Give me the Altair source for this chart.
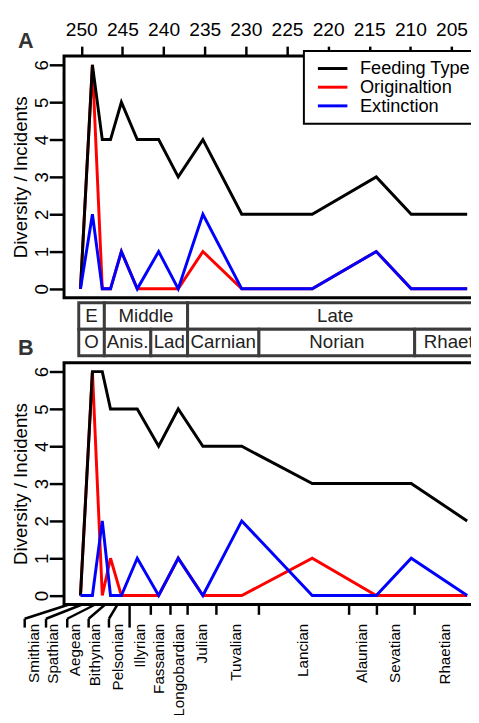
import altair as alt
import pandas as pd

FONT = "Liberation Sans"

# ---------------- data ----------------
series = ["Feeding Type", "Originaltion", "Extinction"]
ages = [250.1, 248.65, 247.45, 246.45, 245.13, 243.2, 240.6, 238.22, 235.22, 230.5, 221.93, 214.15, 209.9, 203.1]

a_feeding = [0, 6, 4, 4, 5, 4, 4, 3, 4, 2, 2, 3, 2, 2]
a_orig    = [0, 6, 0, 0, 1, 0, 0, 0, 1, 0, 0, 1, 0, 0]
a_ext     = [0, 2, 0, 0, 1, 0, 1, 0, 2, 0, 0, 1, 0, 0]

b_feeding = [0, 6, 6, 5, 5, 5, 4, 5, 4, 4, 3, 3, 3, 2]
b_orig    = [0, 6, 0, 1, 0, 0, 0, 1, 0, 0, 1, 0, 0, 0]
b_ext     = [0, 0, 2, 0, 0, 1, 0, 1, 0, 2, 0, 0, 1, 0]

top_ticks = [250, 245, 240, 235, 230, 225, 220, 215, 210, 205]
y_ticks = [0, 1, 2, 3, 4, 5, 6]

epoch_names = ["E", "Middle", "Late"]
epoch_start = [250.31, 247.2, 237.08]
epoch_end = [247.2, 237.08, 201.2]
stage_names = ["O", "Anis.", "Lad", "Carnian", "Norian", "Rhaet"]
stage_start = [250.31, 247.2, 241.55, 237.08, 228.41, 209.48]
stage_end = [247.2, 241.55, 237.08, 228.41, 209.48, 201.2]

substage_names = ["Smithian", "Spathian", "Aegean", "Bithynian", "Pelsonian", "Illyrian",
                  "Fassanian", "Longobardian", "Julian", "Tuvalian", "Lancian",
                  "Alaunian", "Sevatian", "Rhaetian"]
substage_label_ages = [255.68, 253.41, 250.79, 248.28, 245.53, 242.9, 240.51, 238.12,
                       235.37, 231.19, 223.07, 215.9, 211.83, 205.74]
boundary_ages = [241.55, 239.16, 237.08, 233.58, 228.41, 217.45, 214.07, 209.48]
long_boundary_ages = [244.13]
crowded_boundary_ages = [251.5, 249.9, 248.3, 247.1, 245.6]
crowded_leader_ages = [256.88, 254.29, 251.71, 249.11, 246.64]

# ---------------- tables ----------------
def long_table(vals):
    rows = []
    for s, v in zip(series, vals):
        for a, y in zip(ages, v):
            rows.append({"age": a, "value": y, "series": s})
    return pd.DataFrame(rows)

dfA = long_table([a_feeding, a_orig, a_ext])
dfB = long_table([b_feeding, b_orig, b_ext])

W, H, BAND_H = 426, 246, 66
xscale = alt.Scale(domain=[252.1, 201.2], nice=False, zero=False)
yscale = alt.Scale(domain=[-0.24, 6.24], nice=False, zero=False)

legend = alt.Legend(title=None, orient="none", legendX=244, legendY=-5,
                    symbolType="M-2,0H2", symbolSize=225, symbolStrokeWidth=3,
                    labelFontSize=18.5, labelFont=FONT, labelColor="black",
                    padding=8.5, symbolOffset=11.5, labelOffset=18.5, rowPadding=-0.2,
                    strokeColor="black", fillColor="white")
color = alt.Color("series:N", scale=alt.Scale(domain=series, range=["#000000", "#ff0000", "#0000ff"]),
                  legend=legend)

yaxis = alt.Axis(values=y_ticks, title="Diversity / Incidents", labelAngle=270, labelAlign="center",
                 labelBaseline="alphabetic", labelPadding=2, tickSize=15, tickWidth=2.5,
                 tickColor="black", labelColor="black", labelFontSize=19, domain=False, grid=False,
                 titleFontSize=19, titleFontWeight="normal", titleColor="black", titlePadding=2,
                 labelFlush=False)
topaxis = alt.Axis(orient="top", values=top_ticks, format="d", title=None, labelFontSize=19.5,
                   tickSize=10, tickWidth=2.5, tickColor="black", labelColor="black",
                   domain=False, grid=False, labelPadding=7, labelFlush=False)

order = ["Originaltion", "Feeding Type", "Extinction"]


def line_layers(df, xaxis):
    layers = []
    for s in order:
        layers.append(
            alt.Chart(df).transform_filter(alt.datum.series == s)
            .mark_line(strokeWidth=3, strokeJoin="miter", clip=False)
            .encode(x=alt.X("age:Q", scale=xscale, axis=xaxis),
                    y=alt.Y("value:Q", scale=yscale, axis=yaxis),
                    color=color)
        )
    return layers


def panel_label(txt):
    return alt.Chart(pd.DataFrame({"lab": [txt]})).mark_text(
        font=FONT, fontSize=22, fontWeight="bold", color="#333333", align="center", baseline="middle"
    ).encode(text="lab:N", x=alt.value(-39), y=alt.value(-15))


chartA = alt.layer(*line_layers(dfA, topaxis), panel_label("A")).properties(width=W, height=H)

# ---------------- time scale band ----------------
band_df = pd.DataFrame(
    [{"name": n, "start": s, "end": e, "y0": 1, "y1": 2, "ym": 1.5} for n, s, e in zip(epoch_names, epoch_start, epoch_end)] +
    [{"name": n, "start": s, "end": e, "y0": 0, "y1": 1, "ym": 0.5} for n, s, e in zip(stage_names, stage_start, stage_end)]
)
band_df["mid"] = (band_df["start"] + band_df["end"]) / 2
band_y = alt.Scale(domain=[-0.26, 2.185], nice=False, zero=False)
band_rect = alt.Chart(band_df).mark_rect(fill="white", stroke="#3c3c3c", strokeWidth=3).encode(
    x=alt.X("start:Q", scale=xscale, axis=None), x2="end:Q",
    y=alt.Y("y0:Q", scale=band_y, axis=None), y2="y1:Q")
band_text = alt.Chart(band_df).mark_text(font=FONT, fontSize=19, color="#222222", baseline="middle").encode(
    x=alt.X("mid:Q", scale=xscale, axis=None), y=alt.Y("ym:Q", scale=band_y, axis=None), text="name:N")
band = alt.layer(band_rect, band_text).properties(width=W, height=BAND_H,
                                                  view=alt.ViewBackground(stroke="transparent"))

# ---------------- panel B ----------------
ticks_df = pd.DataFrame({"age": boundary_ages})
long_df = pd.DataFrame({"age": long_boundary_ages})
lead_df = pd.DataFrame({"age": crowded_boundary_ages, "lead": crowded_leader_ages})
lab_df = pd.DataFrame({"age": substage_label_ages, "name": substage_names})

rule_style = dict(stroke="black", strokeWidth=2.5)
b_ticks = alt.Chart(ticks_df).mark_rule(**rule_style).encode(
    x=alt.X("age:Q", scale=xscale, axis=None), y=alt.value(H), y2=alt.value(H + 10.5))
b_long = alt.Chart(long_df).mark_rule(**rule_style).encode(
    x=alt.X("age:Q", scale=xscale, axis=None), y=alt.value(H), y2=alt.value(H + 23.5))
b_slant = alt.Chart(lead_df).mark_rule(**rule_style).encode(
    x=alt.X("age:Q", scale=xscale, axis=None), x2="lead:Q", y=alt.value(H), y2=alt.value(H + 14.5))
b_stub = alt.Chart(lead_df).mark_rule(**rule_style).encode(
    x=alt.X("lead:Q", scale=xscale, axis=None), y=alt.value(H + 14.5), y2=alt.value(H + 23.5))
b_labels = alt.Chart(lab_df).mark_text(font=FONT, fontSize=15.5, color="black", angle=270,
                                       align="right", baseline="middle").encode(
    x=alt.X("age:Q", scale=xscale, axis=None), y=alt.value(H + 19.5), text="name:N")

chartB = alt.layer(*line_layers(dfB, None), b_ticks, b_long, b_slant, b_stub, b_labels,
                   panel_label("B")).properties(width=W, height=H)

chart = alt.vconcat(chartA, band, chartB, spacing=0, bounds="flush").properties(
    autosize=alt.AutoSizeParams(type="none"),
    padding={"left": 57, "top": 42.7, "right": -12, "bottom": 664.3}
).configure(font=FONT).configure_view(stroke="black", strokeWidth=3).configure_legend(strokeWidth=2)

chart.save("out.html", embed_options={"renderer": "svg", "actions": False})
